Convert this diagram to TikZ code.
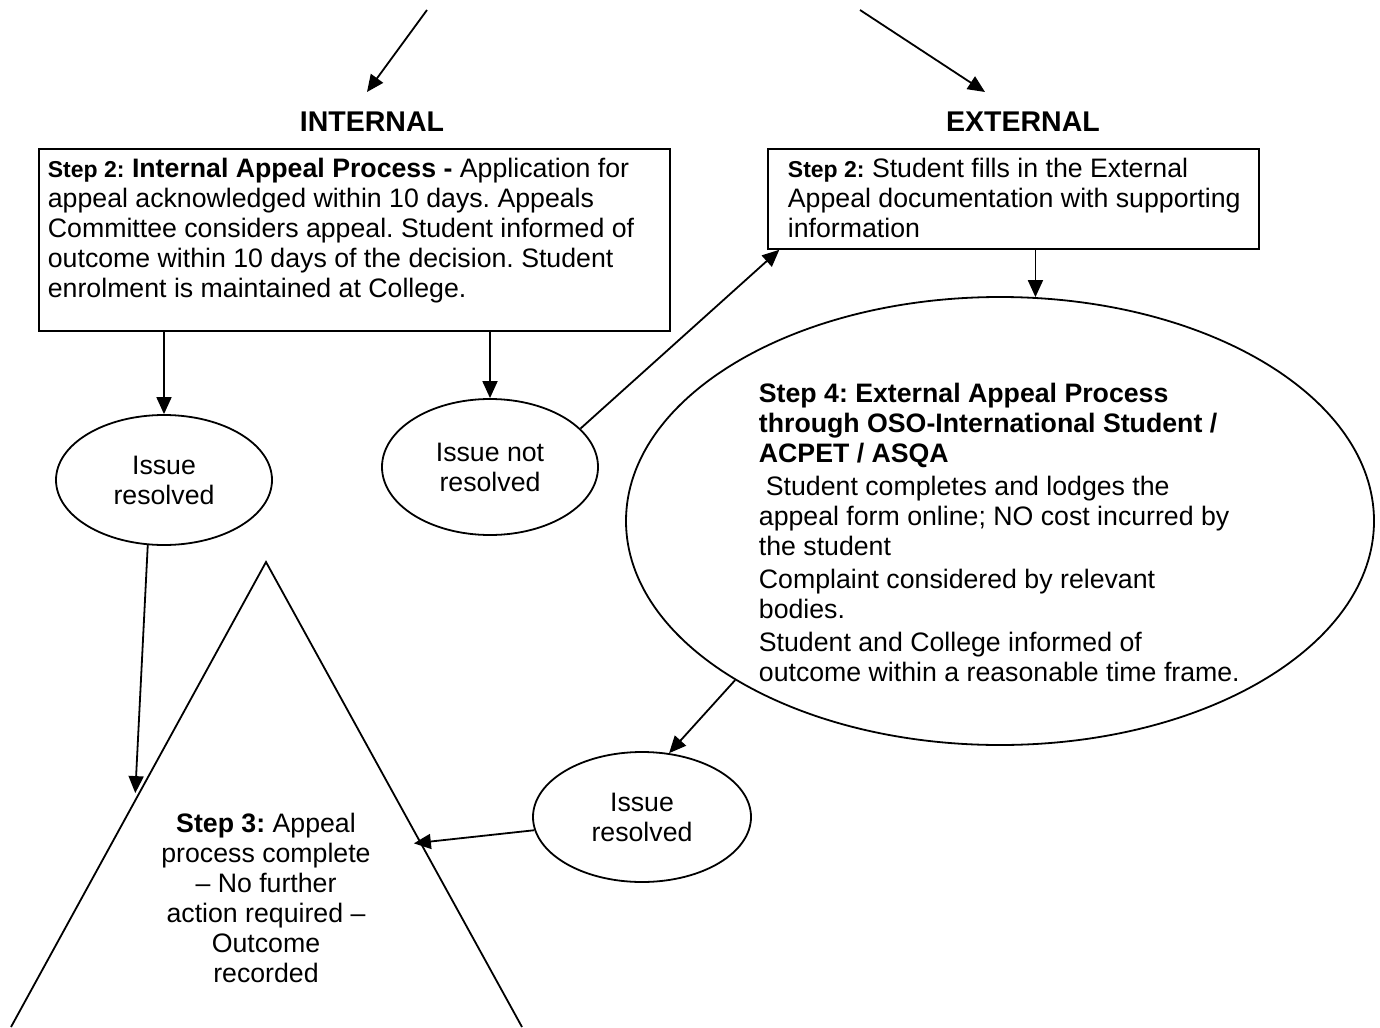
\documentclass[tikz,border=0pt]{standalone}
\usepackage{fontspec}
\setmainfont{Liberation Sans}
\usetikzlibrary{shapes.geometric,arrows.meta,calc}
\frenchspacing
\newcommand\bodyfont{\fontsize{26.7}{30}\selectfont}
\newcommand\stepfont{\fontsize{23}{30}\selectfont\bfseries}
\newcommand\headfont{\fontsize{28.5}{32}\selectfont\bfseries}
\begin{document}
\begin{tikzpicture}[x=1pt,y=-1pt,
  line width=1.8pt,
  arr/.style={-{Triangle[length=17pt,width=15pt]}},
  boxnode/.style={draw, rectangle, inner sep=0, anchor=north west},
  oval/.style={draw, ellipse, inner sep=0, align=center, font=\bodyfont},
  txt/.style={inner sep=0, align=left, anchor=north west, font=\bodyfont},
  head/.style={inner sep=0, font=\headfont}]
\useasboundingbox (0,0) rectangle (1380,1027);
\fill[white] (0,0) rectangle (1380,1027);

% headings
\node[head] (int) at (372,122) {INTERNAL};
\node[head] (ext) at (1023,122) {EXTERNAL};
\coordinate (i0) at (427,10);
\coordinate (i1) at (367,92);
\coordinate (e0) at (860,10);
\coordinate (e1) at (985,92);
\draw[arr] (i0) -- (i1);
\draw[arr] (e0) -- (e1);

% boxes
\node[boxnode, minimum width=631, minimum height=182] (ib) at (38,148) {};
\node[txt] (ibt) at (47,157) {{\stepfont Step 2:} \textbf{Internal Appeal Process -} Application for\\
appeal acknowledged within 10 days. Appeals\\
Committee considers appeal. Student informed of\\
outcome within 10 days of the decision. Student\\
enrolment is maintained at College.};

\node[boxnode, minimum width=491, minimum height=100] (eb) at (767,148) {};
\node[txt] (ebt) at (787,157) {{\stepfont Step 2:} Student fills in the External\\
Appeal documentation with supporting\\
information};

% ellipses
\node[oval, minimum width=216, minimum height=130] (r1) at (164,480) {Issue\\resolved};
\node[oval, minimum width=216, minimum height=136] (nr) at (490,467) {Issue not\\resolved};
\node[oval, minimum width=218, minimum height=130] (r3) at (642,817) {Issue\\resolved};
\node[draw, ellipse, inner sep=0, minimum width=748, minimum height=448] (big) at (1000,521) {};
\node[txt] (bigt) at (758,382) {\textbf{Step 4: External Appeal Process}\\
\textbf{through OSO-International Student /}\\
\textbf{ACPET / ASQA}\\[3pt]
\hspace*{7pt}Student completes and lodges the\\
appeal form online; NO cost incurred by\\
the student\\[3pt]
Complaint considered by relevant\\
bodies.\\[3pt]
Student and College informed of\\
outcome within a reasonable time frame.};

% triangle
\coordinate (tA) at (266,562);
\coordinate (tL) at (11,1027);
\coordinate (tR) at (522,1027);
\draw (tL) -- (tA) -- (tR);
\node[inner sep=0, align=center, anchor=north, font=\bodyfont] (tri) at (266,812) {\textbf{Step 3:} Appeal\\
process complete\\
-- No further\\
action required --\\
Outcome\\
recorded};

% connectors
\draw[arr] (r1.north |- ib.south) -- (r1.north);
\draw[arr] (nr.north |- ib.south) -- (nr.north);
\draw[arr] (nr.23) -- ($(eb.south west)!0.025!(eb.south east)$);
\draw[arr] (big.81 |- eb.south) -- (big.81);
\draw[arr] (big.211) -- (r3.67);
\coordinate (tipR) at ($(tA)!0.605!(tR)+(-7,0)$);
\coordinate (tipL) at ($(tA)!0.497!(tL)+(-4,0)$);
\draw[arr] (r3.187) -- (tipR);
\draw[arr] (r1.256) -- (tipL);
\end{tikzpicture}
\end{document}
